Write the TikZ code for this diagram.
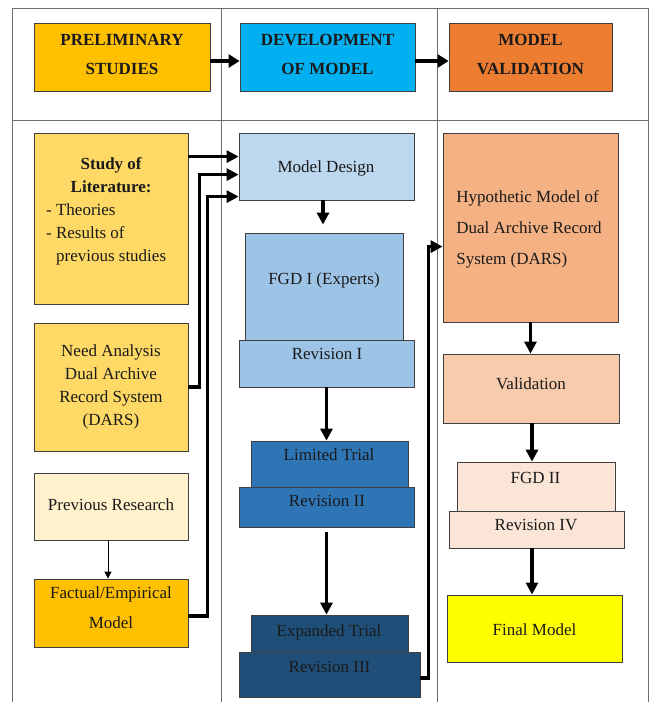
\documentclass[tikz,border=0pt]{standalone}
\usepackage{fontspec}
\setmainfont{Liberation Serif}
\usetikzlibrary{arrows.meta,fit}
\definecolor{hGold}{HTML}{FFC000}
\definecolor{hBlue}{HTML}{00B0F0}
\definecolor{hOrange}{HTML}{ED7D31}
\definecolor{litFill}{HTML}{FFD966}
\definecolor{prevFill}{HTML}{FFF2CC}
\definecolor{mdFill}{HTML}{BDD7EE}
\definecolor{fgdFill}{HTML}{9DC3E6}
\definecolor{limFill}{HTML}{2E75B6}
\definecolor{expFill}{HTML}{1F4E79}
\definecolor{hypFill}{HTML}{F4B183}
\definecolor{valFill}{HTML}{F8CBAD}
\definecolor{fgdtwoFill}{HTML}{FBE5D6}
\definecolor{finFill}{HTML}{FFFF00}
\definecolor{txtCol}{HTML}{1A1A1A}
\definecolor{gridCol}{HTML}{6E6E6E}
\begin{document}
\begin{tikzpicture}[x=1pt,y=-1pt,
  box/.style={draw=black!75, line width=0.8pt, inner sep=0pt},
  txt/.style={inner sep=0pt, text=txtCol, font=\fontsize{17}{23}\selectfont, align=center},
  headtxt/.style={txt, font=\fontsize{17}{29}\selectfont\bfseries},
  conn/.style={line width=3.5pt, -{Triangle[length=12pt,width=12pt]}},
  headconn/.style={line width=4.5pt, -{Triangle[length=11pt,width=13pt]}},
  thinconn/.style={line width=0.9pt, -{Triangle[length=7pt,width=7pt]}},
  grid/.style={draw=gridCol, line width=1pt}]
\useasboundingbox (0,0) rectangle (649,702);
% table
\draw[grid] (12,8) rectangle (648,712);
\draw[grid] (12,120) -- (648,120);
\draw[grid] (221,8) -- (221,712);
\draw[grid] (437,8) -- (437,712);
% header boxes
\node[box, fill=hGold, fit={(34,23) (210,91)}] (h1) {};
\node[box, fill=hBlue, fit={(240,23) (415,91)}] (h2) {};
\node[box, fill=hOrange, fit={(449,23) (612,91)}] (h3) {};
\node[headtxt] (h1t) at (122,54) {PRELIMINARY\\STUDIES};
\node[headtxt] (h2t) at (327.5,54) {DEVELOPMENT\\OF MODEL};
\node[headtxt] (h3t) at (530.5,54) {MODEL\\VALIDATION};
\draw[headconn] ([yshift=-4pt]h1.east) -- ([yshift=-4pt]h2.west);
\draw[headconn] ([yshift=-4pt]h2.east) -- ([yshift=-4pt]h3.west);
% column 1
\node[box, fill=litFill, fit={(34,133) (188,304)}] (lit) {};
\node[box, fill=litFill, fit={(34,323) (188,451)}] (need) {};
\node[box, fill=prevFill, fit={(34,473) (188,540)}] (prev) {};
\node[box, fill=hGold, fit={(34,579) (188,647)}] (fact) {};
\node[txt, anchor=west] (lit-t) at (46,211) {\begin{tabular}{@{}l@{}}
\multicolumn{1}{@{}c@{}}{\hspace{10pt}\bfseries Study of}\\
\multicolumn{1}{@{}c@{}}{\hspace{10pt}\bfseries Literature:}\\
- Theories\\
- Results of\\
\phantom{- }previous studies
\end{tabular}};
\node[txt] (need-t) at (111,387) {Need Analysis\\Dual Archive\\Record System\\(DARS)};
\node[txt] (prev-t) at (111,505) {Previous Research};
\node[txt, font=\fontsize{17}{30}\selectfont] (fact-t) at (111,608) {Factual/Empirical\\Model};
% column 2
\node[box, fill=mdFill, fit={(239,133) (414,200)}] (md) {};
\node[box, fill=fgdFill, fit={(245,233) (403,340)}] (fgd1) {};
\node[box, fill=fgdFill, fit={(239,340) (414,387)}] (rev1) {};
\node[box, fill=limFill, fit={(251,441) (408,487)}] (lim) {};
\node[box, fill=limFill, fit={(239,487) (414,527)}] (rev2) {};
\node[box, fill=expFill, fit={(251,615) (408,652)}] (exp) {};
\node[box, fill=expFill, fit={(239,652) (420,697)}] (rev3) {};
\node[txt] (md-t) at (326,168) {Model Design};
\node[txt] (fgd1-t) at (324,280) {FGD I (Experts)};
\node[txt] (rev1-t) at (327,354) {Revision I};
\node[txt] (lim-t) at (329,455) {Limited Trial};
\node[txt] (rev2-t) at (327,501) {Revision II};
\node[txt] (exp-t) at (329,632) {Expanded Trial};
\node[txt] (rev3-t) at (329.5,667) {Revision III};
% column 3
\node[box, fill=hypFill, fit={(443,133) (618,322)}] (hyp) {};
\node[box, fill=valFill, fit={(443,354) (619,423)}] (val) {};
\node[box, fill=fgdtwoFill, fit={(457,462) (615,511)}] (fgd2) {};
\node[box, fill=fgdtwoFill, fit={(449,511) (624,548)}] (rev4) {};
\node[box, fill=finFill, fit={(447,595) (622,662)}] (fin) {};
\node[txt, align=left, font=\fontsize{17}{31}\selectfont] (hyp-t) at (529,229) {Hypothetic Model of\\Dual Archive Record\\System (DARS)};
\node[txt] (val-t) at (531,384) {Validation};
\node[txt] (fgd2-t) at (535.5,478) {FGD II};
\node[txt] (rev4-t) at (536,525) {Revision IV};
\node[txt] (fin-t) at (534.5,630) {Final Model};
% connectors
\draw[conn] ([yshift=-24pt]lit.north east) -- ([yshift=-24pt]md.north west);
\draw[conn] (need.east) -- ++(11,0) |- ([yshift=-42pt]md.north west);
\draw[conn] ([yshift=-3pt]fact.east) -- ++(19,0) |- ([yshift=-64pt]md.north west);
\draw[thinconn] ([xshift=-3pt]prev.south) -- ([xshift=-3pt]prev.south |- fact.north);
\draw[conn, shorten >=8pt] ([xshift=-3.5pt]md.south) -- ([xshift=-3.5pt]md.south |- fgd1.north);
\draw[conn] (rev1.south) -- (rev1.south |- lim.north);
\draw[conn, shorten <=5pt] (rev2.south) -- (rev2.south |- exp.north);
\draw[conn] ([yshift=-3.5pt]rev3.east) -- ++(8,0) |- ([yshift=-114pt]hyp.north west);
\draw[conn] (hyp.south) -- (hyp.south |- val.north);
\draw[conn] ([xshift=1pt]val.south) -- ([xshift=1pt]val.south |- fgd2.north);
\draw[conn] ([xshift=-4.5pt]rev4.south) -- ([xshift=-4.5pt]rev4.south |- fin.north);
\end{tikzpicture}
\end{document}
